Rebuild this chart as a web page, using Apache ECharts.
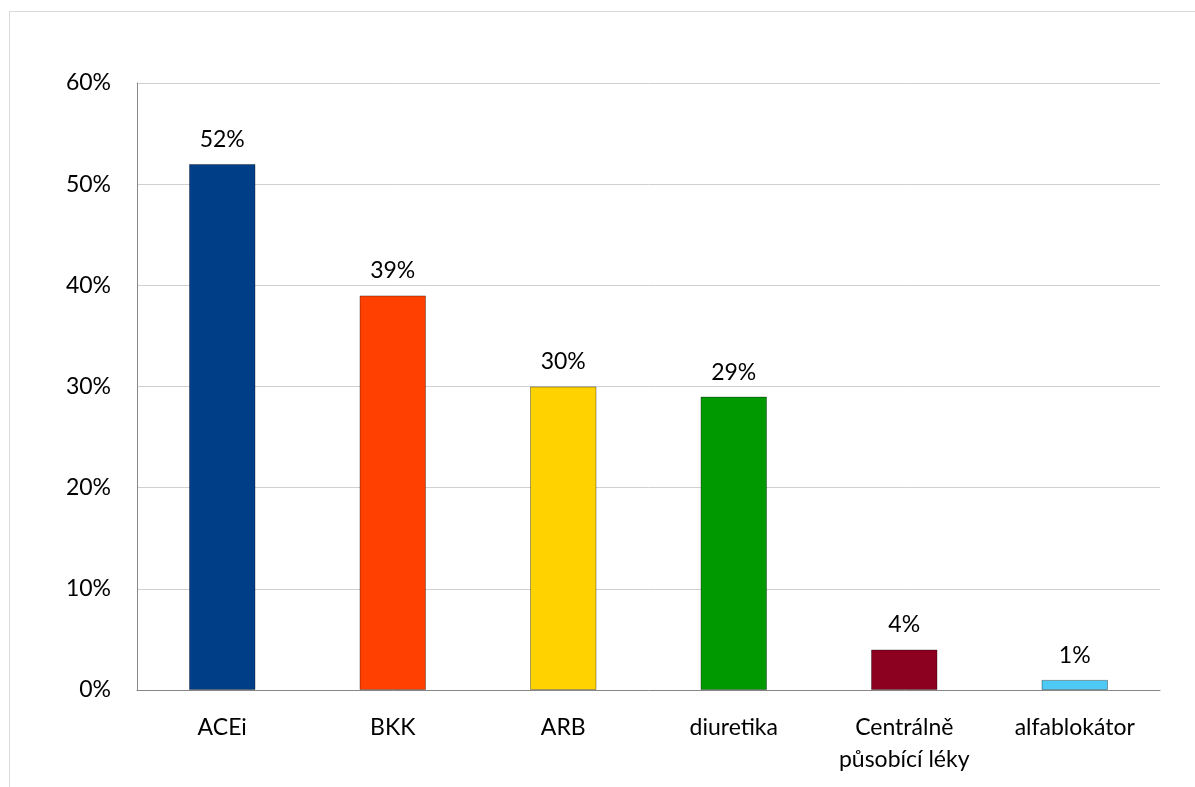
<!DOCTYPE html>
<html>
<head>
<meta charset="utf-8">
<script src="https://cdn.jsdelivr.net/npm/echarts@6/dist/echarts.min.js"></script>
<style>
    html, body { margin: 0; padding: 0; background: #fff; }
    #frame { position: absolute; left: 9px; top: 11px; width: 1200px; height: 800px; border: 1px solid #d9d9d9; }
    #main { position: absolute; left: 0; top: 0; width: 1195px; height: 787px; }
</style>
</head>
<body>
<div id="frame"></div>
<div id="main"></div>
<script>
// kategorie léků
const categories = ['ACEi', 'BKK', 'ARB', 'diuretika', 'Centrálně\npůsobící léky', 'alfablokátor']
// podíl v procentech
const values = [52, 39, 30, 29, 4, 1]
const barColors = ['#003F87', '#FF4000', '#FFD200', '#009A00', '#8C0020', '#4DC9F6']

var myChart = echarts.init(document.getElementById('main'));
var font = 'Lato, "Open Sans", sans-serif';

var option = {
    animation: false,
    grid: { left: 137, right: 35, top: 83, bottom: 97 },
    xAxis: {
        type: 'category',
        data: categories,
        axisTick: { show: false },
        axisLine: { lineStyle: { color: '#868686', width: 1 } },
        axisLabel: { color: '#000', fontSize: 23, fontFamily: font, margin: 22, lineHeight: 32, interval: 0 }
    },
    yAxis: {
        type: 'value',
        min: 0,
        max: 60,
        interval: 10,
        axisLine: { show: true, lineStyle: { color: '#868686' } },
        axisTick: { show: false },
        splitLine: { lineStyle: { color: '#d0d0d0' } },
        axisLabel: { color: '#000', fontSize: 23, fontFamily: font, margin: 26, formatter: '{value}%' }
    },
    series: [{
        type: 'bar',
        barWidth: '39%',
        data: values.map((v, i) => ({
            value: v,
            itemStyle: { color: barColors[i], borderColor: 'rgba(0,0,0,0.35)', borderWidth: 1 }
        })),
        label: {
            show: true,
            position: 'top',
            distance: 13,
            color: '#000',
            fontSize: 23,
            fontFamily: font,
            formatter: '{c}%'
        }
    }]
};

option && myChart.setOption(option);
</script>
</body>
</html>
